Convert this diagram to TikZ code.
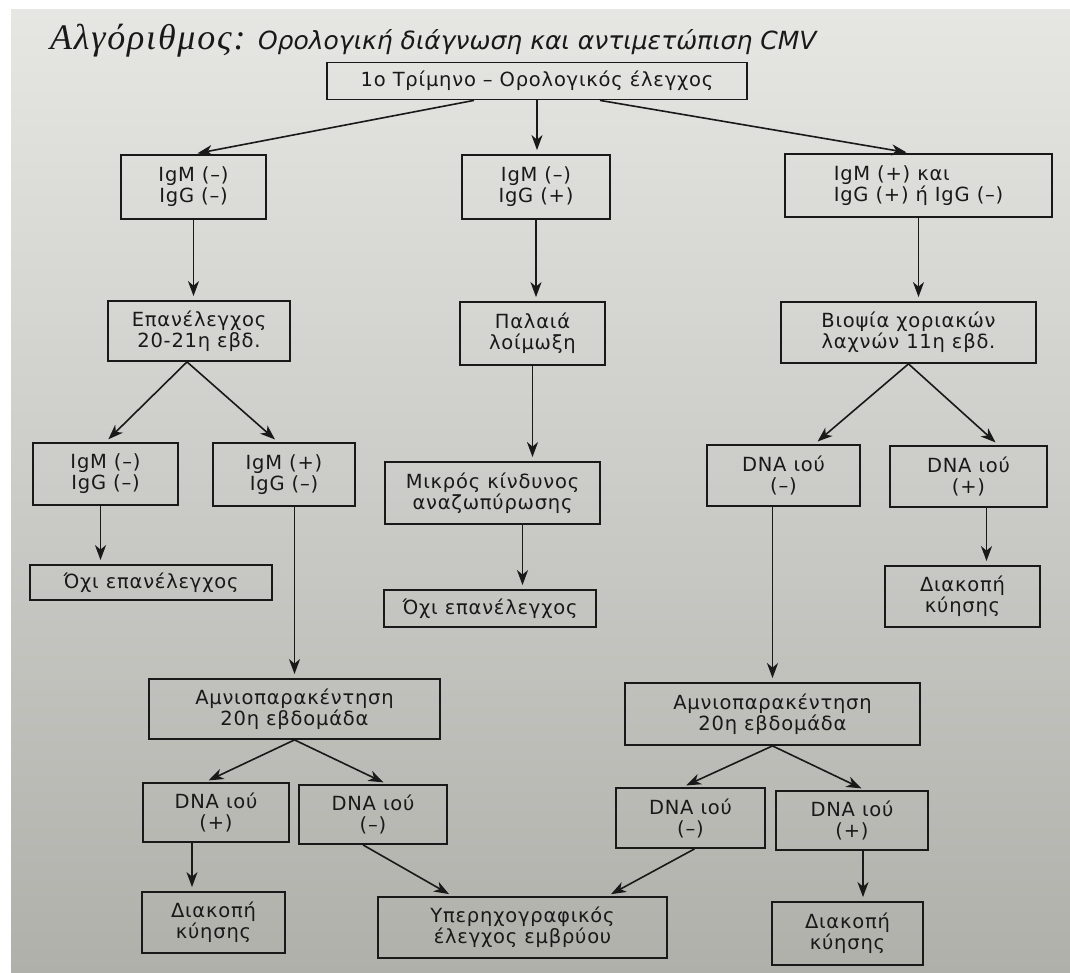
\documentclass[tikz,border=0pt]{standalone}
\usepackage{fontspec}
\setmainfont{DejaVu Sans}
\newfontfamily\boxfont[LetterSpace=4]{DejaVu Sans}
\newfontfamily\titleserif[LetterSpace=5]{Liberation Serif}
\newfontfamily\titlesans{DejaVu Sans}
\usetikzlibrary{arrows.meta}
\definecolor{ink}{RGB}{25,25,25}
\definecolor{paperTop}{RGB}{230,230,227}
\definecolor{paperBot}{RGB}{176,176,171}

\begin{document}
\begin{tikzpicture}[x=1pt,y=-1pt,
  box/.style={draw=ink, line width=1.8pt, align=center, inner sep=0pt, text=ink,
    font=\boxfont\fontsize{19.5}{21}\selectfont},
  arr/.style={draw=ink, line width=1.6pt, -{Stealth[length=15pt,width=11pt,inset=4.5pt]}, shorten >=4pt}]
\useasboundingbox (0,0) rectangle (1070,973);
% paper
\fill[white] (0,0) rectangle (1070,973);
\shade[top color=paperTop, bottom color=paperBot] (11,10) rectangle (1070,973);

% title
\node[anchor=base west, inner sep=0pt, text=ink, font=\titleserif\itshape\fontsize{36}{36}\selectfont] (ttl) at (50,50) {Αλγόριθμος:};
\node[anchor=base west, inner sep=0pt, text=ink, font=\titlesans\itshape\fontsize{25}{25}\selectfont] (sub) at ([xshift=12pt]ttl.base east) {Ορολογική διάγνωση και αντιμετώπιση CMV};

% first row
\node[box, minimum width=420pt, minimum height=37pt] (trim) at (537,81) {1ο Τρίμηνο – Ορολογικός έλεγχος};

\node[box, minimum width=145pt, minimum height=64pt] (igA) at (193.5,187) {IgM (–)\\IgG (–)};
\node[box, minimum width=148pt, minimum height=64pt] (igB) at (536,187) {IgM (–)\\IgG (+)};
\node[box, minimum width=267pt, minimum height=63pt, align=left] (igC) at (918.5,185.5) {IgM (+) και\\IgG (+) ή IgG (–)};

\node[box, minimum width=182pt, minimum height=60pt] (retest) at (199,331) {Επανέλεγχος\\20-21η εβδ.};
\node[box, minimum width=145pt, minimum height=63pt] (old) at (532.5,333.5) {Παλαιά\\λοίμωξη};
\node[box, minimum width=255pt, minimum height=61pt] (biopsy) at (908.5,332.5) {Βιοψία χοριακών\\λαχνών 11η εβδ.};

\node[box, minimum width=145pt, minimum height=62pt] (igG) at (105.5,474) {IgM (–)\\IgG (–)};
\node[box, minimum width=142pt, minimum height=63pt] (igH) at (284,474.5) {IgM (+)\\IgG (–)};
\node[box, minimum width=215pt, minimum height=62pt] (risk) at (492.5,493) {Μικρός κίνδυνος\\αναζωπύρωσης};
\node[box, minimum width=153pt, minimum height=61pt] (dnaJ) at (783.5,475.5) {DNA ιού\\(–)};
\node[box, minimum width=157pt, minimum height=61pt] (dnaK) at (968.5,476.5) {DNA ιού\\(+)};

\node[box, minimum width=242pt, minimum height=35pt] (noL) at (151,582.5) {Όχι επανέλεγχος};
\node[box, minimum width=212pt, minimum height=37pt] (noM) at (490,608.5) {Όχι επανέλεγχος};
\node[box, minimum width=155pt, minimum height=61pt] (stopN) at (962.5,596.5) {Διακοπή\\κύησης};

\node[box, minimum width=291pt, minimum height=60pt] (amnioL) at (294.5,709) {Αμνιοπαρακέντηση\\20η εβδομάδα};
\node[box, minimum width=295pt, minimum height=62pt] (amnioR) at (772.5,714) {Αμνιοπαρακέντηση\\20η εβδομάδα};

\node[box, minimum width=146pt, minimum height=59pt] (dnaQ) at (216,812.5) {DNA ιού\\(+)};
\node[box, minimum width=148pt, minimum height=59pt] (dnaR) at (373,814.5) {DNA ιού\\(–)};
\node[box, minimum width=149pt, minimum height=60pt] (dnaS) at (690.5,818) {DNA ιού\\(–)};
\node[box, minimum width=152pt, minimum height=59pt] (dnaT) at (852,820.5) {DNA ιού\\(+)};

\node[box, minimum width=143pt, minimum height=61pt] (stopU) at (213.5,922.5) {Διακοπή\\κύησης};
\node[box, minimum width=289pt, minimum height=61pt] (scan) at (522.5,927.5) {Υπερηχογραφικός\\έλεγχος εμβρύου};
\node[box, minimum width=151pt, minimum height=63pt] (stopW) at (847.5,933.5) {Διακοπή\\κύησης};

% arrows
\draw[arr] ([xshift=-63pt]trim.south) -- (igA.north);
\draw[arr] (trim.south) -- (trim.south |- igB.north);
\draw[arr] ([xshift=63pt]trim.south) -- ([xshift=-8pt]igC.north);
\draw[arr] (igA.south) -- (igA.south |- retest.north);
\draw[arr] (igB.south) -- (igB.south |- old.north);
\draw[arr] (igC.south) -- (igC.south |- biopsy.north);
\draw[arr] ([xshift=-12pt]retest.south) -- (igG.north);
\draw[arr] ([xshift=-12pt]retest.south) -- ([xshift=-6pt]igH.north);
\draw[arr] (old.south) -- (old.south |- risk.north);
\draw[arr] (biopsy.south) -- ([xshift=31pt]dnaJ.north);
\draw[arr] (biopsy.south) -- ([xshift=30pt]dnaK.north);
\draw[arr] ([xshift=-5pt]igG.south) -- ([xshift=-5pt]igG.south |- noL.north);
\draw[arr] ([xshift=30pt]risk.south) -- ([xshift=30pt]risk.south |- noM.north);
\draw[arr] ([xshift=18pt]dnaK.south) -- ([xshift=18pt]dnaK.south |- stopN.north);
\draw[arr] (amnioL.north |- igH.south) -- (amnioL.north);
\draw[arr] (amnioR.north |- dnaJ.south) -- (amnioR.north);
\draw[arr] (amnioL.south) -- ([xshift=-11pt]dnaQ.north);
\draw[arr] (amnioL.south) -- ([xshift=14pt]dnaR.north);
\draw[arr] (amnioR.south) -- ([xshift=-8pt]dnaS.north);
\draw[arr] (amnioR.south) -- ([xshift=13pt]dnaT.north);
\draw[arr] ([xshift=-24pt]dnaQ.south) -- ([xshift=-24pt]dnaQ.south |- stopU.north);
\draw[arr] ([xshift=-10pt]dnaR.south) -- ([xshift=-70pt]scan.north);
\draw[arr] ([xshift=4pt]dnaS.south) -- ([xshift=85pt]scan.north);
\draw[arr] ([xshift=11pt]dnaT.south) -- ([xshift=11pt]dnaT.south |- stopW.north);
\end{tikzpicture}
\end{document}
